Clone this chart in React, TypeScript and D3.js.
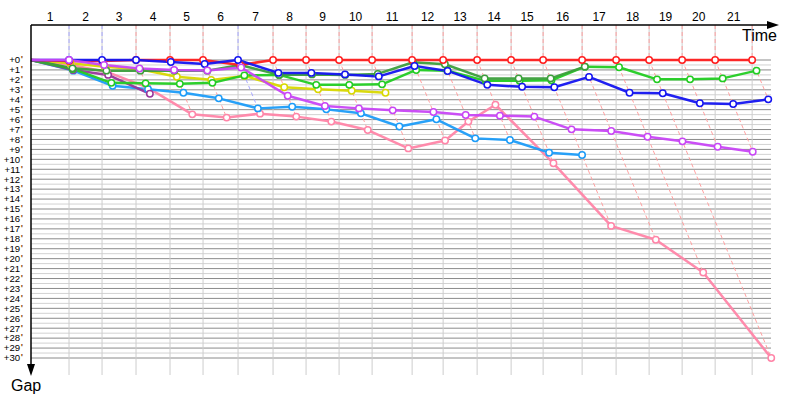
import React from "react";
import * as d3 from "d3";

// Lap labels along the top (time) axis
const lapLabels = d3.range(1, 22).map(String);
// Leader lap times (time units), cumulated to place lap boundaries
const leaderLapTimes = [9.34, 8.11, 8.35, 8.35, 8.11, 8.6, 8.6, 8.11, 8.11, 8.11, 9.83, 7.62, 8.35, 8.35, 7.86, 9.58, 8.35, 8.11, 8.11, 8.11, 9.09];
// Gap ticks in seconds
const gapTicks = d3.range(0, 31);

// Gap to leader (s) for each lap, per driver
const redGaps = [0.1, 0.1, 0, 0, 0, 0.5, 0, 0, 0, 0, 0, 0, 0, 0, 0, 0, 0, 0, 0, 0, 0];
const blueGaps = [0, 0, 0, 0.2, 0.4, 0, 1.3, 1.3, 1.45, 1.65, 0.6, 1.1, 2.5, 2.7, 2.75, 1.7, 3.3, 3.35, 4.36, 4.43, 3.96];
const darkGreenGaps = [0.84, 1.07, 1.07, 1.07, 1.07, 0.5, 1.5, 1.45, 1.5, 1.4, 0.23, 0.43, 1.85, 1.85, 1.85, 0.67];
const greenGaps = [0.9, 2.3, 2.35, 2.4, 2.3, 1.55, 1.5, 2.5, 2.5, 2.45, 1.0, 1.07, 2.1, 2.1, 2.05, 0.67, 0.73, 1.95, 1.95, 1.85, 1.07];
const yellowGaps = [0.33, 0.67, 0.94, 1.68, 2.0, 1.6, 2.75, 2.95, 3.09, 3.29];
const violetGaps = [0, 0.5, 0.85, 1.0, 1.05, 0.75, 3.6, 4.63, 4.87, 5.07, 5.24, 5.54, 5.6, 5.7, 6.98, 7.15, 7.72, 8.19, 8.73, 9.23];
const purpleGaps = [1.0, 1.5, 3.4];
const skyGaps = [1.07, 2.6, 2.95, 3.29, 3.86, 4.87, 4.7, 4.97, 5.37, 6.7, 5.97, 7.89, 8.06, 9.33, 9.57];
const pinkGaps = [0.5, 1.2, 2.75, 5.47, 5.8, 5.4, 5.7, 6.2, 7.05, 8.9, 8.1, 6.2, 4.5, 10.4, 16.7, 18.1, 21.4, 30.0];

const drivers = [
  { name: "red", gaps: redGaps, color: "#ff1f1f", dash: "#ffa0a0" },
  { name: "blue", gaps: blueGaps, color: "#1414f0", dash: "#a8a8ff" },
  { name: "violet", gaps: violetGaps, color: "#c846f5", dash: "#e0b0ff" },
  { name: "darkgreen", gaps: darkGreenGaps, color: "#3c9e3c", dash: "#b0e0b0" },
  { name: "green", gaps: greenGaps, color: "#22cc22", dash: "#b0f0b0" },
  { name: "yellow", gaps: yellowGaps, color: "#d8d800", dash: "#f0f0a0" },
  { name: "purple", gaps: purpleGaps, color: "#99359b", dash: "#d8b0d8" },
  { name: "sky", gaps: skyGaps, color: "#1c9cf8", dash: "#b0d8ff" },
  { name: "pink", gaps: pinkGaps, color: "#ff85a8", dash: "#ffc0d0" },
];
const drawOrder = ["pink", "sky", "purple", "yellow", "green", "darkgreen", "red", "blue", "violet"];

export default function App() {
  const W = 800, H = 400;
  const cum = [0, ...Array.from(d3.cumsum(leaderLapTimes))];
  const x = d3.scaleLinear().domain([0, 183.5]).range([31, 778]);
  const y = d3.scaleLinear().domain([0, 30]).range([60, 358]);
  const axisY = 25;
  const gridBottom = 375;
  const gridRight = 771;
  const labelFont = "'Liberation Sans', Arial, sans-serif";

  const halfTicks = d3.range(0, 60.5, 1).map((k) => k / 2);

  const line = d3.line<[number, number]>().x((d) => d[0]).y((d) => d[1]);

  const pts = (gaps: number[]) =>
    [[x(0), y(0)] as [number, number]].concat(
      gaps.map((g, i) => [x(cum[i + 1] + g), y(g)] as [number, number])
    );

  // dashed lap connectors
  const dashes = lapLabels.map((_, i) => {
    const lap = i + 1;
    let leader = drivers[0];
    let best = Infinity;
    let maxGap = 0;
    drivers.forEach((d) => {
      const g = d.gaps[i];
      if (g === undefined || g === null) return;
      if (g < best) { best = g; leader = d; }
      if (g > maxGap) maxGap = g;
    });
    const x0 = x(cum[lap]);
    const path = `M${x0},${axisY}L${x0},${y(0)}L${x(cum[lap] + maxGap)},${y(maxGap)}`;
    return { path, color: leader.dash, key: lap };
  });

  const ordered = drawOrder.map((n) => drivers.find((d) => d.name === n)!);

  return (
    <svg width={W} height={H} style={{ position: "absolute", left: 0, top: 0, background: "#fff" }} fontFamily={labelFont}>
      {/* horizontal grid */}
      {halfTicks.map((t) => (
        <line key={"h" + t} x1={x(0)} x2={gridRight} y1={y(t)} y2={y(t)}
          stroke={Number.isInteger(t) ? "#8a8a8a" : "#d2d2d2"} strokeWidth={1} />
      ))}
      {/* vertical grid at lap boundaries */}
      {cum.slice(1).map((c, i) => (
        <line key={"v" + i} x1={x(c)} x2={x(c)} y1={axisY} y2={gridBottom} stroke="#cdcdcd" strokeWidth={1} />
      ))}
      {/* lap connectors */}
      {dashes.map((d) => (
        <path key={"d" + d.key} d={d.path} fill="none" stroke={d.color} strokeWidth={1} strokeDasharray="4,3" />
      ))}
      {/* series lines */}
      {ordered.map((d) => (
        <path key={"l" + d.name} d={line(pts(d.gaps)) || ""} fill="none" stroke={d.color}
          strokeWidth={2.5} strokeLinejoin="round" strokeOpacity={0.95} />
      ))}
      {/* series points */}
      {ordered.map((d) => (
        <g key={"p" + d.name}>
          {pts(d.gaps).slice(1).map((p, i) => (
            <circle key={i} cx={p[0]} cy={p[1]} r={3.2} fill="#fff" stroke={d.color} strokeWidth={1.5} />
          ))}
        </g>
      ))}
      {/* axes */}
      <line x1={x(0)} x2={772} y1={axisY} y2={axisY} stroke="#000" strokeWidth={1.5} />
      <path d={`M779,${axisY}L767,${axisY - 4}L767,${axisY + 4}Z`} fill="#000" />
      <line x1={x(0)} x2={x(0)} y1={axisY} y2={368} stroke="#000" strokeWidth={1.5} />
      <path d={`M${x(0)},376L${x(0) - 4},364L${x(0) + 4},364Z`} fill="#000" />
      {/* top labels */}
      {lapLabels.map((l, i) => (
        <text key={"t" + l} x={(x(cum[i]) + x(cum[i + 1])) / 2} y={21} textAnchor="middle" fontSize={12} fill="#000">{l}</text>
      ))}
      {/* gap labels */}
      {gapTicks.map((t) => (
        <text key={"g" + t} x={23} y={y(t) + 3.3} textAnchor="end" fontSize={9.6} fill="#000">
          {"+" + t}
          <tspan fontWeight="bold" fill="#8a4a10" dx={0.6} dy={-1}>'</tspan>
        </text>
      ))}
      <text x={777} y={41} textAnchor="end" fontSize={16} fill="#000">Time</text>
      <text x={11} y={391} fontSize={16} fill="#000">Gap</text>
    </svg>
  );
}
